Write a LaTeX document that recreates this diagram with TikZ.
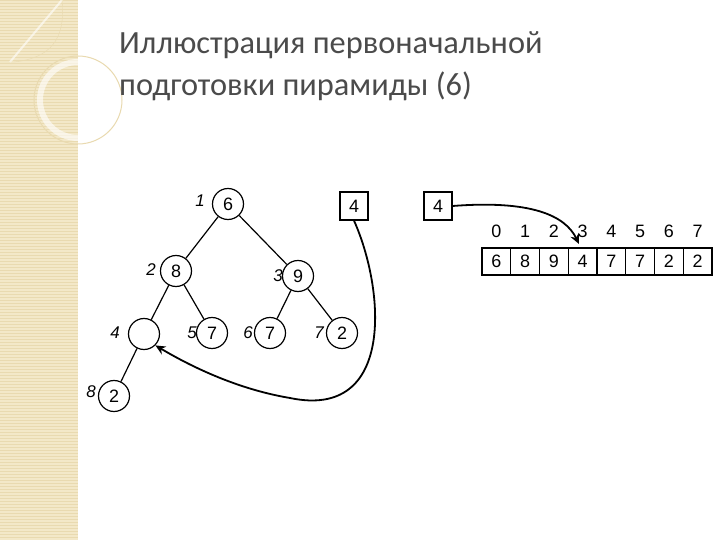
\documentclass[tikz,border=0pt]{standalone}
\usepackage{fontspec}
\setmainfont{Liberation Sans}
\newfontfamily\titlefont{Carlito}
\usetikzlibrary{arrows.meta}
\definecolor{band}{RGB}{243,232,200}
\definecolor{bandline}{RGB}{233,218,176}
\definecolor{titlecol}{RGB}{75,75,75}
\begin{document}
\begin{tikzpicture}[x=1bp,y=-1bp,
  vtx/.style={circle,draw,line width=1.2bp,minimum size=31bp,inner sep=0pt,font=\fontsize{18}{18}\selectfont},
  idx/.style={font=\itshape\fontsize{17}{17}\selectfont},
  box/.style={draw,line width=1.2bp,minimum width=28bp,minimum height=28bp,inner sep=0pt,font=\fontsize{18}{18}\selectfont},
  cell/.style={draw,line width=1.2bp,minimum width=28.75bp,minimum height=27bp,inner sep=0pt,font=\fontsize{18}{18}\selectfont},
  num/.style={font=\fontsize{18}{18}\selectfont},
  edge/.style={line width=1.2bp},
  arr/.style={line width=1.8bp,-{Stealth[length=10bp,width=9bp]}}]
\useasboundingbox (0,0) rectangle (720,540);
\fill[white] (0,0) rectangle (720,540);
\fill[band] (0,0) rectangle (78,540);
\foreach \y in {0,3,...,540} \draw[bandline,line width=0.5bp] (0,\y) -- (78,\y);
\draw[white,line width=6bp,opacity=0.6] (78,100) circle (38);
\draw[bandline,line width=1bp] (78,100) circle (44);
\draw[white,line width=2bp,opacity=0.6] (62,0) -- (10,62);
\draw[bandline] (0,62) -- (14,62) (62,0) .. controls (66,40) and (50,58) .. (14,62);
\node[anchor=north west,inner sep=0pt,align=left,text=titlecol,font=\titlefont\fontsize{32.5}{43}\selectfont] (title) at (119,31) {Иллюстрация первоначальной\\подготовки пирамиды (6)};
% tree
\node[vtx] (n1) at (228,204) {6};
\node[vtx] (n2) at (176,271) {8};
\node[vtx] (n3) at (298,276) {9};
\node[vtx] (n4) at (144,334) {};
\node[vtx] (n5) at (212,333) {7};
\node[vtx] (n6) at (270,333) {7};
\node[vtx] (n7) at (342,333) {2};
\node[vtx] (n8) at (114,396) {2};
\draw[edge] (n1) -- (n2); \draw[edge] (n1) -- (n3);
\draw[edge] (n2) -- (n4); \draw[edge] (n2) -- (n5);
\draw[edge] (n3) -- (n6); \draw[edge] (n3) -- (n7);
\draw[edge] (n4) -- (n8);
\node[idx] (l1) at (200,201) {1};
\node[idx] (l2) at (151,270) {2};
\node[idx] (l3) at (278,276) {3};
\node[idx] (l4) at (115,333) {4};
\node[idx] (l5) at (192,333) {5};
\node[idx] (l6) at (248,333) {6};
\node[idx] (l7) at (319,333) {7};
\node[idx] (l8) at (91,392) {8};
\node[box] (b1) at (354,206) {4};
\node[box] (b2) at (438,206) {4};
% array
\foreach \v [count=\i from 0] in {6,8,9,4,7,7,2,2} {
  \node[cell] (c\i) at (496.4+28.75*\i,261.5) {\v};
  \node[num] (i\i) at (496.4+28.75*\i,231) {\i};
}
\coordinate (t3) at (579,244);
\draw[arr] (b1.south) .. controls (385,290) and (395,420) .. (290,398) .. controls (230,388) and (180,360) .. (n4.south east);
\draw[arr] (b2.east) .. controls (530,200) and (565,215) .. (t3);
\end{tikzpicture}
\end{document}
